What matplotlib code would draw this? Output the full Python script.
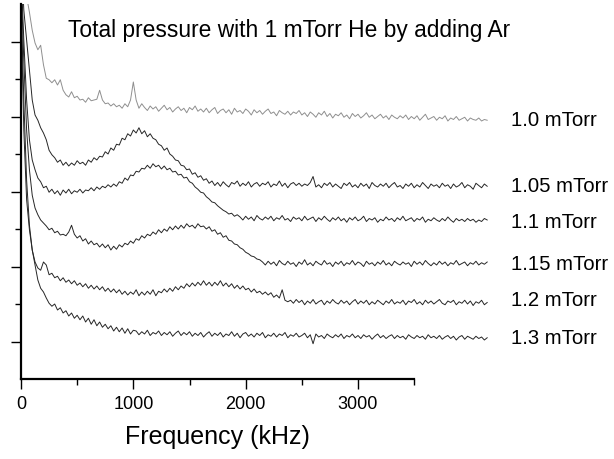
import numpy as np
import matplotlib
matplotlib.use("Agg")
import matplotlib.pyplot as plt

plt.rcParams["font.family"] = ["Liberation Sans", "DejaVu Sans"]

# frequency grid of the spectra (kHz)
freq = np.arange(0, 4151, 25)

labels = ["1.0 mTorr", "1.05 mTorr", "1.1 mTorr", "1.15 mTorr", "1.2 mTorr", "1.3 mTorr"]
label_y = [121, 186, 222, 264, 301, 339]   # pixel rows of the right-hand labels

p100 = [6.10, 5.60, 5.10, 4.89, 4.65, 4.48, 4.39, 4.45, 4.19, 4.01, 3.99, 3.95, 3.99, 3.92, 3.99, 3.85, 3.79, 3.76, 3.83, 3.75, 3.77,
        3.72, 3.73, 3.69, 3.75, 3.71, 3.72, 3.73, 3.85, 3.72, 3.67, 3.68, 3.64, 3.67, 3.63, 3.65, 3.61, 3.67, 3.63, 3.72, 3.96, 3.72, 3.61, 3.67,
        3.62, 3.58, 3.64, 3.60, 3.63, 3.57, 3.61, 3.65, 3.59, 3.62, 3.56, 3.60, 3.63, 3.58, 3.61, 3.55, 3.62, 3.59, 3.64, 3.57,
        3.60, 3.56, 3.61, 3.55, 3.59, 3.62, 3.54, 3.58, 3.60, 3.55, 3.59, 3.53, 3.61, 3.56, 3.58, 3.54, 3.60, 3.57, 3.52, 3.59,
        3.55, 3.58, 3.53, 3.57, 3.60, 3.54, 3.56, 3.51, 3.58, 3.55, 3.53, 3.57, 3.52, 3.56, 3.54, 3.58,
        3.52, 3.55, 3.50, 3.56, 3.53, 3.49, 3.55, 3.52, 3.57, 3.50, 3.54, 3.48, 3.53, 3.51, 3.55, 3.49, 3.52, 3.47, 3.54, 3.50,
        3.53, 3.48, 3.51, 3.55, 3.49, 3.52, 3.47, 3.50, 3.53, 3.48, 3.51, 3.46, 3.52, 3.49, 3.47, 3.51,
        3.48, 3.52, 3.46, 3.50, 3.47, 3.51, 3.45, 3.49, 3.53, 3.46, 3.48, 3.50, 3.45, 3.49, 3.47, 3.51, 3.44, 3.48, 3.46, 3.50,
        3.45, 3.47, 3.49, 3.44, 3.48, 3.46, 3.45, 3.48, 3.44, 3.46, 3.45]

p105 = [5.72, 4.92, 4.52, 4.12, 3.72, 3.52, 3.45, 3.35, 3.28, 3.19, 3.05, 2.99, 2.95, 2.89, 2.92, 2.85, 2.89, 2.84, 2.88, 2.85,
        2.91, 2.87, 2.89, 2.85, 2.92, 2.89, 2.95, 2.92, 2.97, 2.96, 3.03, 3.00, 3.08, 3.05, 3.13, 3.12, 3.21, 3.19, 3.27, 3.24,
        3.32, 3.28, 3.35, 3.27, 3.31, 3.23, 3.27, 3.21, 3.19, 3.13, 3.11, 3.05, 3.08, 3.00, 2.97, 2.92, 2.91, 2.85, 2.84, 2.79,
        2.80, 2.73, 2.75, 2.69, 2.71, 2.65, 2.67, 2.61, 2.64,
        2.58, 2.62, 2.57, 2.63, 2.59, 2.56, 2.62, 2.60, 2.64, 2.57,
        2.61, 2.58, 2.63, 2.56, 2.60, 2.62, 2.57, 2.61, 2.59, 2.63,
        2.56, 2.60, 2.58, 2.64, 2.57, 2.61, 2.55, 2.60, 2.62, 2.58,
        2.61, 2.57, 2.60, 2.58, 2.62, 2.70, 2.56, 2.59, 2.55, 2.61,
        2.58, 2.62, 2.56, 2.60, 2.57, 2.54, 2.61, 2.58, 2.62, 2.56,
        2.59, 2.55, 2.61, 2.57, 2.60, 2.54, 2.62, 2.58, 2.56, 2.60,
        2.57, 2.61, 2.55, 2.59, 2.62, 2.56, 2.58, 2.54, 2.60, 2.57,
        2.61, 2.55, 2.59, 2.56, 2.62, 2.58, 2.54, 2.60, 2.57, 2.59,
        2.55, 2.61, 2.57, 2.59, 2.54, 2.60, 2.56, 2.58, 2.62, 2.55,
        2.59, 2.57, 2.53, 2.61, 2.58, 2.55, 2.60, 2.57]

p110 = [5.45, 4.52, 3.72, 3.19, 2.92, 2.79, 2.68, 2.63, 2.55, 2.57, 2.49, 2.53, 2.47, 2.51, 2.45, 2.52, 2.48, 2.53, 2.47, 2.51,
        2.49, 2.53, 2.48, 2.52, 2.51, 2.55, 2.51, 2.56, 2.53, 2.57, 2.55, 2.59, 2.56, 2.60, 2.57, 2.63, 2.61, 2.68, 2.65, 2.72,
        2.71, 2.77, 2.76, 2.81, 2.80, 2.85, 2.81, 2.87, 2.83, 2.85, 2.80, 2.84, 2.79, 2.81, 2.76, 2.77, 2.72, 2.73, 2.68, 2.69,
        2.63, 2.61, 2.56, 2.53, 2.49, 2.48, 2.43, 2.40, 2.36, 2.35, 2.31, 2.28, 2.25, 2.23, 2.20, 2.21, 2.17, 2.19, 2.16,
        2.12, 2.17, 2.13, 2.16, 2.11, 2.18, 2.14, 2.12, 2.16, 2.13,
        2.17, 2.11, 2.15, 2.13, 2.18, 2.12, 2.14, 2.10, 2.16, 2.13,
        2.15, 2.11, 2.17, 2.12, 2.14, 2.16, 2.10, 2.15, 2.12, 2.17,
        2.13, 2.10, 2.15, 2.12, 2.16, 2.11, 2.14, 2.09, 2.15, 2.12,
        2.16, 2.11, 2.13, 2.17, 2.10, 2.14, 2.12, 2.15, 2.09, 2.13,
        2.11, 2.16, 2.12, 2.14, 2.10, 2.15, 2.12, 2.17, 2.11, 2.13,
        2.15, 2.10, 2.14, 2.12, 2.16, 2.09, 2.13, 2.11, 2.15, 2.12,
        2.10, 2.14, 2.11, 2.16, 2.12, 2.09, 2.14, 2.11, 2.13, 2.10,
        2.14, 2.11, 2.13, 2.09, 2.12, 2.10, 2.14, 2.12]

p115 = [5.32, 4.25, 3.32, 2.79, 2.45, 2.28, 2.19, 2.12, 2.08, 2.04, 1.99, 2.01, 1.95, 1.97, 1.92, 1.93, 1.91, 1.96, 2.05, 1.93,
        1.88, 1.91, 1.84, 1.87, 1.80, 1.84, 1.79, 1.81, 1.76, 1.80, 1.75, 1.79, 1.72, 1.77, 1.73, 1.79, 1.76, 1.81, 1.79, 1.84,
        1.81, 1.87, 1.85, 1.91, 1.88, 1.93, 1.91, 1.96, 1.93, 1.99, 1.95, 2.00, 1.97, 2.03, 1.99, 2.04, 2.00, 2.05, 2.01, 2.07,
        2.03, 2.05, 2.01, 2.07, 2.03, 2.04, 2.00, 2.03, 1.97, 1.99, 1.93, 1.95, 1.89, 1.91, 1.85, 1.84, 1.80, 1.79, 1.75, 1.73,
        1.69, 1.67, 1.64, 1.63, 1.60, 1.59, 1.56,
        1.52, 1.57, 1.53, 1.56, 1.51, 1.58, 1.54, 1.52, 1.57, 1.53,
        1.55, 1.50, 1.56, 1.53, 1.59, 1.52, 1.55, 1.51, 1.57, 1.54,
        1.52, 1.58, 1.53, 1.55, 1.50, 1.56, 1.53, 1.57, 1.51, 1.55,
        1.53, 1.58, 1.52, 1.56, 1.54, 1.50, 1.57, 1.53, 1.55, 1.51,
        1.56, 1.53, 1.58, 1.52, 1.55, 1.51, 1.57, 1.54, 1.52, 1.56,
        1.53, 1.55, 1.50, 1.57, 1.53, 1.56, 1.52, 1.58, 1.54, 1.51,
        1.55, 1.52, 1.57, 1.53, 1.56, 1.51, 1.55, 1.53, 1.58, 1.52,
        1.54, 1.56, 1.51, 1.55, 1.53, 1.57, 1.52, 1.55, 1.53, 1.56]

p120 = [5.05, 3.72, 2.65, 2.05, 1.72, 1.56, 1.48, 1.45, 1.56, 1.52, 1.39, 1.41, 1.35, 1.37, 1.31, 1.35, 1.29, 1.32, 1.27, 1.31,
        1.25, 1.28, 1.23, 1.27, 1.21, 1.25, 1.20, 1.24, 1.19, 1.23, 1.17, 1.21, 1.16, 1.20, 1.15, 1.19, 1.13, 1.17, 1.12, 1.16,
        1.13, 1.19, 1.11, 1.16, 1.12, 1.17, 1.13, 1.19, 1.11, 1.17, 1.15, 1.20, 1.16, 1.21, 1.17, 1.23, 1.19, 1.24, 1.21, 1.27,
        1.23, 1.28, 1.24, 1.29, 1.25, 1.31, 1.25, 1.29, 1.24, 1.29, 1.25, 1.31, 1.24, 1.28, 1.23, 1.27, 1.21, 1.25, 1.20, 1.24,
        1.19, 1.21, 1.16, 1.20, 1.15, 1.17, 1.13, 1.16, 1.12, 1.15, 1.09, 1.12, 1.08, 1.19, 1.05, 1.03, 1.05,
        1.01, 1.06, 1.02, 1.05, 0.99, 1.04, 1.01, 1.06, 1.00, 1.03,
        1.05, 0.99, 1.04, 1.01, 1.06, 1.02, 1.00, 1.05, 1.01, 1.04,
        0.99, 1.03, 1.06, 1.00, 1.04, 1.01, 1.05, 0.99, 1.03, 1.00,
        1.05, 1.02, 0.99, 1.04, 1.01, 1.06, 1.00, 1.03, 1.01, 1.05,
        0.99, 1.04, 1.02, 1.06, 1.00, 1.03, 0.99, 1.05, 1.01, 1.04,
        1.00, 1.03, 1.06, 1.01, 0.99, 1.04, 1.02, 1.05, 0.99, 1.03,
        1.01, 1.05, 1.00, 1.04, 0.98, 1.03, 1.01, 1.05, 0.99, 1.02]

p130 = [4.92, 3.32, 2.39, 1.99, 1.72, 1.52, 1.32, 1.21, 1.16, 1.08, 1.01, 0.97, 1.00, 0.92, 0.95, 0.88, 0.91, 0.84, 0.88, 0.81,
        0.85, 0.79, 0.84, 0.76, 0.81, 0.73, 0.79, 0.71, 0.76, 0.69, 0.73, 0.67, 0.71, 0.64, 0.69, 0.63, 0.68, 0.61, 0.67, 0.60,
        0.65,
        0.64, 0.59, 0.63, 0.60, 0.65, 0.58, 0.62, 0.60, 0.64, 0.58,
        0.62, 0.59, 0.63, 0.57, 0.61, 0.64, 0.58, 0.62, 0.59, 0.63,
        0.57, 0.61, 0.58, 0.62, 0.56, 0.60, 0.63, 0.57, 0.61, 0.58,
        0.62, 0.56, 0.60, 0.58, 0.63, 0.57, 0.61, 0.55, 0.60, 0.62,
        0.57, 0.60, 0.56, 0.61, 0.58, 0.62, 0.55, 0.59, 0.57, 0.61,
        0.56, 0.60, 0.58, 0.62, 0.55, 0.59, 0.57, 0.61, 0.56, 0.58,
        0.61, 0.55, 0.59, 0.47, 0.60, 0.56, 0.58, 0.54, 0.60, 0.57,
        0.55, 0.59, 0.56, 0.60, 0.54, 0.58, 0.56, 0.60, 0.55, 0.58,
        0.54, 0.59, 0.56, 0.58, 0.53, 0.57, 0.60, 0.55, 0.58, 0.54,
        0.57, 0.59, 0.54, 0.58, 0.55, 0.57, 0.53, 0.59, 0.56, 0.54,
        0.58, 0.55, 0.57, 0.53, 0.59, 0.55, 0.57, 0.54, 0.58, 0.53,
        0.56, 0.58, 0.54, 0.57, 0.52, 0.56, 0.58, 0.53, 0.57, 0.55,
        0.53, 0.57, 0.54, 0.56, 0.52, 0.55]

spectra = [p100, p105, p110, p115, p120, p130]
colors = ["#8f8f8f", "#262626", "#262626", "#262626", "#262626", "#262626"]

W, H = 614, 459
fig = plt.figure(figsize=(W / 100, H / 100), dpi=100)
px_per_khz = (358 - 21) / 3000
ax = fig.add_axes([21 / W, 80 / H, (W - 21) / W, 375 / H])

for y, c in zip(spectra, colors):
    ax.plot(freq, y, color=c, lw=0.7)

ax.set_xlim(0, (W - 21) / px_per_khz)
ax.set_ylim(0, 5)

for side in ["top", "right"]:
    ax.spines[side].set_visible(False)
ax.spines["left"].set_linewidth(1.6)
ax.spines["bottom"].set_linewidth(1.6)
ax.spines["bottom"].set_bounds(0, 3500)

ax.set_xticks([0, 1000, 2000, 3000])
ax.set_xticks([500, 1500, 2500, 3500], minor=True)
ax.set_yticks([0.5, 1.5, 2.5, 3.5, 4.5])
ax.set_yticks([1, 2, 3, 4], minor=True)
ax.set_yticklabels([])
ax.tick_params(axis="both", which="major", direction="out", length=7, width=1.0)
ax.tick_params(axis="both", which="minor", direction="out", length=4, width=1.0)
ax.tick_params(axis="x", labelsize=13, pad=5)

fig.text(68 / W, 1 - 37 / H, "Total pressure with 1 mTorr He by adding Ar", fontsize=16.4, va="baseline")
# labels sized so the longest one just fits inside the figure
for lab, py in zip(labels, label_y):
    fig.text(511 / W, 1 - py / H, lab, fontsize=14.6, va="center")

fig.text((21 + 3500 * px_per_khz / 2) / W, 1 - 437 / H, "Frequency (kHz)", fontsize=18, ha="center", va="center")

fig.savefig("out.png", dpi=100)
